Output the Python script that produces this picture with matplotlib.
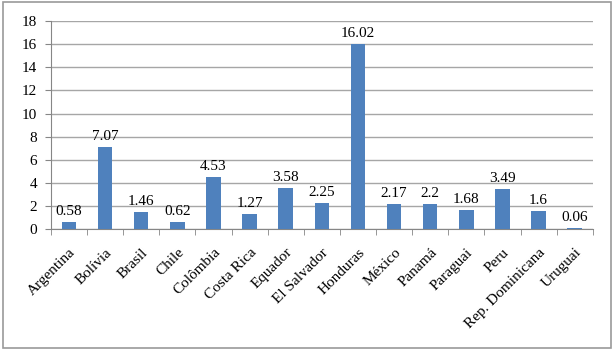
import matplotlib.pyplot as plt
from matplotlib.patches import Rectangle

# Datos
paises = ["Argentina", "Bolívia", "Brasil", "Chile", "Colômbia", "Costa Rica",
          "Equador", "El Salvador", "Honduras", "México", "Panamá", "Paraguai",
          "Peru", "Rep. Dominicana", "Uruguai"]
valores = [0.58, 7.07, 1.46, 0.62, 4.53, 1.27, 3.58, 2.25, 16.02, 2.17, 2.2,
           1.68, 3.49, 1.6, 0.06]
etiquetas = ["0.58", "7.07", "1.46", "0.62", "4.53", "1.27", "3.58", "2.25",
             "16.02", "2.17", "2.2", "1.68", "3.49", "1.6", "0.06"]
y_ticks = list(range(0, 20, 2))

plt.rcParams['font.family'] = ['Liberation Serif', 'DejaVu Serif']

fig = plt.figure(figsize=(6.13, 3.52), dpi=100)
ax = fig.add_axes([0.083, 0.349, 0.884, 0.591])

# borde de la figura
fig.patches.append(Rectangle((0.005, 0.011), 0.991, 0.983, transform=fig.transFigure,
                             fill=False, edgecolor="#9a9a9a", linewidth=1.2))

x = range(len(paises))
bars = ax.bar(x, valores, width=0.4, color="#4f81bd", zorder=3)
for xi, v, lab in zip(x, valores, etiquetas):
    ax.text(xi, v + 0.35, lab, ha="center", va="bottom", fontsize=11)

ax.set_xlim(-0.5, len(paises) - 0.5)
ax.set_ylim(0, 18)
ax.set_yticks(y_ticks)
ax.yaxis.grid(True, color="#a6a6a6", linewidth=1.0, zorder=0)
ax.tick_params(axis="y", length=4, color="#868686", labelsize=11, pad=6)

ax.set_xticks(x)
ax.set_xticklabels(paises, rotation=45, ha="right", rotation_mode="anchor", fontsize=11)
ax.tick_params(axis="x", length=0, pad=12)
ax.set_xticks([i - 0.5 for i in range(len(paises) + 1)], minor=True)
ax.tick_params(axis="x", which="minor", length=4, color="#868686")

for s in ["top", "right"]:
    ax.spines[s].set_visible(False)
for s in ["left", "bottom"]:
    ax.spines[s].set_color("#868686")

fig.savefig("out.png", dpi=100)
